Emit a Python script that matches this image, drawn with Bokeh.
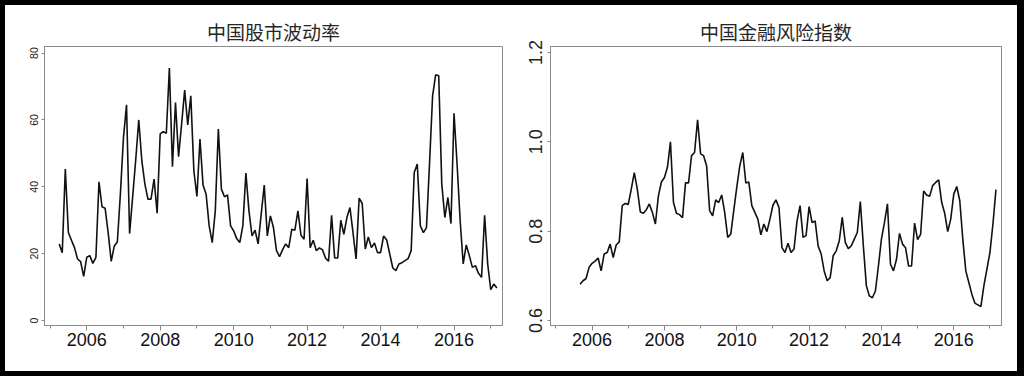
import pandas as pd
from bokeh.plotting import figure
from bokeh.layouts import row, column
from bokeh.models import FixedTicker, Range1d, ColumnDataSource, NumeralTickFormatter
from bokeh.embed import file_html
from bokeh.resources import INLINE

# ---------------- data ----------------
vol_start = "2005-04-01"
vol_values = [
    22.9, 20.3, 45.3, 26.3, 24.0, 21.8, 18.4, 17.6, 13.2, 18.9, 19.4, 17.1,
    18.9, 41.5, 34.0, 33.6, 26.3, 17.7, 22.3, 23.5, 38.0, 54.7, 64.5, 26.0,
    37.0, 48.0, 60.0, 47.8, 40.8, 36.3, 36.3, 42.3, 32.1, 55.8, 56.5, 56.0,
    75.5, 46.0, 65.2, 49.0, 58.8, 68.9, 58.5, 67.2, 44.8, 37.1, 54.3, 40.5,
    37.8, 28.3, 23.3, 32.8, 57.3, 39.3, 37.0, 37.6, 28.3, 26.8, 24.5, 23.3,
    28.3, 44.1, 32.8, 25.3, 27.0, 22.9, 31.8, 40.5, 25.3, 31.3, 27.8, 20.9,
    19.1, 21.2, 22.9, 21.8, 27.3, 27.0, 32.8, 25.5, 24.3, 42.5, 21.8, 24.0,
    20.9, 21.7, 21.2, 18.7, 17.7, 31.5, 18.7, 18.7, 30.0, 25.8, 30.8, 33.8,
    26.3, 18.4, 36.6, 35.0, 21.4, 25.0, 21.8, 23.2, 20.3, 20.3, 25.3, 24.1,
    19.9, 15.7, 14.9, 16.9, 17.3, 17.9, 18.5, 20.9, 44.3, 46.8, 28.3, 26.3,
    27.8, 47.0, 67.2, 73.5, 73.2, 40.8, 30.8, 36.8, 29.0, 62.0, 46.8, 30.0,
    16.9, 22.6, 19.4, 15.9, 16.4, 14.1, 12.9, 31.5, 16.9, 9.2, 10.9, 9.7,
]

risk_start = "2005-09-01"
risk_values = [
    0.681, 0.689, 0.694, 0.719, 0.728, 0.733, 0.740, 0.711, 0.749, 0.752,
    0.771, 0.741, 0.769, 0.776, 0.857, 0.862, 0.860, 0.894, 0.931, 0.894,
    0.843, 0.840, 0.848, 0.861, 0.842, 0.816, 0.879, 0.910, 0.920, 0.943,
    1.000, 0.864, 0.840, 0.837, 0.830, 0.908, 0.908, 0.969, 0.976, 1.049,
    0.973, 0.969, 0.946, 0.846, 0.834, 0.870, 0.864, 0.881, 0.842, 0.786,
    0.793, 0.846, 0.898, 0.946, 0.976, 0.908, 0.910, 0.857, 0.842, 0.827,
    0.792, 0.816, 0.799, 0.827, 0.858, 0.870, 0.853, 0.763, 0.752, 0.773,
    0.752, 0.760, 0.823, 0.857, 0.786, 0.790, 0.855, 0.819, 0.823, 0.767,
    0.749, 0.711, 0.689, 0.696, 0.745, 0.756, 0.778, 0.831, 0.775, 0.761,
    0.767, 0.782, 0.797, 0.866, 0.767, 0.678, 0.655, 0.651, 0.666, 0.722,
    0.782, 0.819, 0.861, 0.726, 0.711, 0.737, 0.795, 0.771, 0.763, 0.722,
    0.722, 0.818, 0.781, 0.793, 0.890, 0.881, 0.878, 0.902, 0.909, 0.915,
    0.864, 0.840, 0.799, 0.827, 0.883, 0.900, 0.868, 0.782, 0.711, 0.685,
    0.659, 0.639, 0.635, 0.631, 0.678, 0.715, 0.752, 0.816, 0.893,
]

x_major_ticks = [2006, 2008, 2010, 2012, 2014, 2016]
x_minor_ticks = [2005, 2007, 2009, 2011, 2013, 2015, 2017]
vol_yticks = [0, 20, 40, 60, 80]
risk_yticks = [0.6, 0.8, 1.0, 1.2]

title_left = "中国股市波动率"
title_right = "中国金融风险指数"


def decimal_years(start, n):
    d = pd.date_range(start, periods=n, freq="MS")
    return list(d.year + (d.month - 1) / 12.0)


GREY = "#8a8a8a"
CJK = "Noto Sans CJK SC"
LAT = "Liberation Sans"


def make_panel(title, xs, ys, yticks, yrange, ylab_size, width, mb_left, mb_right):
    p = figure(width=width, height=366, output_backend="svg", toolbar_location=None,
               x_range=Range1d(2004.85, 2017.32), y_range=Range1d(*yrange),
               min_border_left=mb_left, min_border_right=mb_right,
               min_border_top=41, min_border_bottom=46)
    p.line(x="x", y="y", source=ColumnDataSource(dict(x=xs, y=ys)),
           line_color="#111111", line_width=1.6)
    p.grid.visible = False
    p.background_fill_color = "white"
    p.border_fill_color = "white"
    p.outline_line_color = GREY
    p.outline_line_width = 1

    p.title.text = title
    p.title.align = "center"
    p.title.text_font = CJK
    p.title.text_font_size = "19px"
    p.title.text_font_style = "normal"
    p.title.text_color = "#262626"
    p.title.standoff = 3

    xa = p.xaxis[0]
    xa.ticker = FixedTicker(ticks=x_major_ticks, minor_ticks=x_minor_ticks)
    xa.axis_line_color = GREY
    xa.major_tick_line_color = GREY
    xa.minor_tick_line_color = GREY
    xa.major_tick_in = 0
    xa.major_tick_out = 5
    xa.minor_tick_in = 0
    xa.minor_tick_out = 3
    xa.major_label_text_font = LAT
    xa.major_label_text_font_size = "18px"
    xa.major_label_text_color = "#111111"
    xa.major_label_standoff = 2

    ya = p.yaxis[0]
    ya.ticker = FixedTicker(ticks=yticks)
    ya.axis_line_color = GREY
    ya.major_tick_line_color = GREY
    ya.minor_tick_line_color = None
    ya.major_tick_in = 0
    ya.major_tick_out = 3
    ya.major_label_orientation = "vertical"
    ya.major_label_text_font = LAT
    ya.major_label_text_font_size = ylab_size
    ya.major_label_text_color = "#222222"
    ya.major_label_standoff = 3
    return p


p1 = make_panel(title_left, decimal_years(vol_start, len(vol_values)), vol_values,
                vol_yticks, (-1.5, 81.97), "10.5px", 507, 39, 10)
p2 = make_panel(title_right, decimal_years(risk_start, len(risk_values)), risk_values,
                risk_yticks, (0.5888, 1.2134), "18px", 505, 38, 16)
p2.yaxis[0].major_label_standoff = 5
p2.yaxis[0].formatter = NumeralTickFormatter(format="0.0")

inner = row(p1, p2, spacing=0, margin=(5, 7, 5, 5),
            styles={"background-color": "white"})
layout = column(inner, spacing=0, styles={"background-color": "black"})

open("out.html", "w").write(file_html(layout, INLINE))
